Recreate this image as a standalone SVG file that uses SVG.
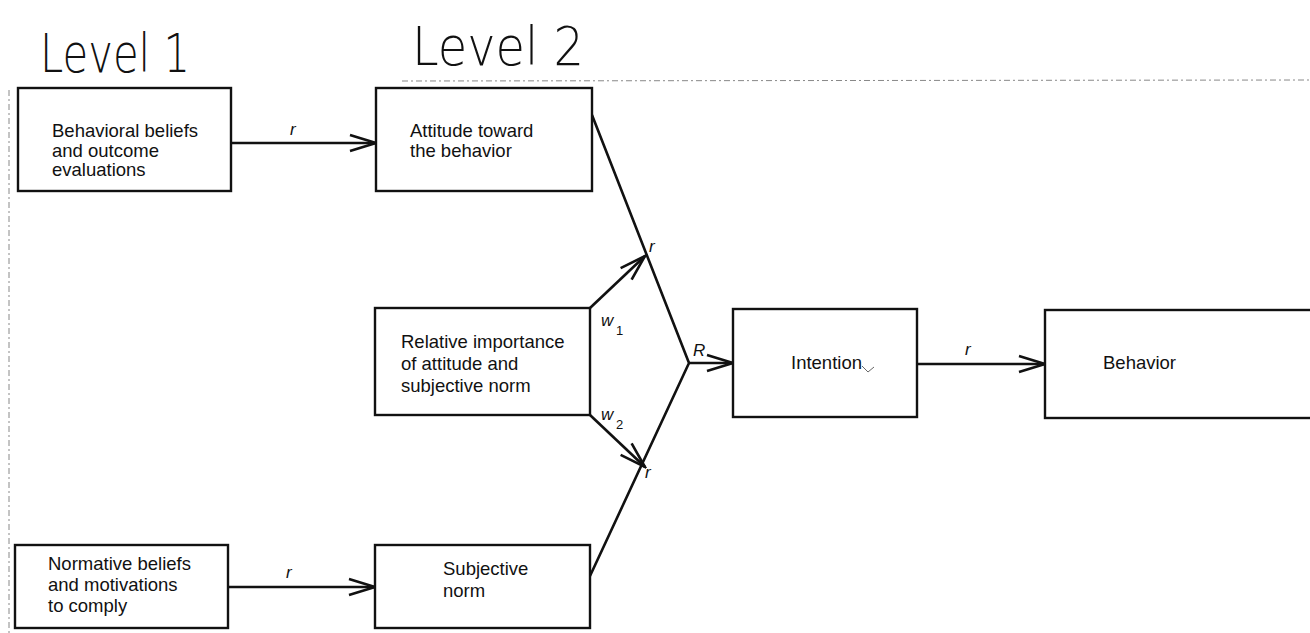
<svg xmlns="http://www.w3.org/2000/svg" width="1310" height="633" viewBox="0 0 1310 633">
  <style>
    .box { fill: #ffffff; stroke: #111111; stroke-width: 2.4; }
    .lbl { font-family: "Liberation Sans", Arial, sans-serif; font-size: 18.5px; fill: #111111; }
    .ital { font-family: "Liberation Sans", Arial, sans-serif; font-size: 17px; font-style: italic; fill: #111111; }
    .sub { font-family: "Liberation Sans", Arial, sans-serif; font-size: 13px; fill: #111111; }
    .hand { font-family: "DejaVu Sans", "Liberation Sans", sans-serif; font-size: 54px; fill: #111111; font-weight: 300; }
    .wire { fill: none; stroke: #111111; stroke-width: 2.6; }
    .edge { fill: none; stroke: #888888; stroke-width: 1; stroke-dasharray: 6 3 2 3; }
  </style>
  <defs>
    <marker id="open" viewBox="0 0 30 20" refX="28" refY="10" markerWidth="30" markerHeight="20" markerUnits="userSpaceOnUse" orient="auto">
      <path d="M2,2 L28,10 L2,18" fill="none" stroke="#111111" stroke-width="2.6"/>
    </marker>
  </defs>

  <rect width="1310" height="633" fill="#ffffff"/>

  <!-- page edges -->
  <line class="edge" x1="402" y1="81" x2="1310" y2="80"/>
  <line class="edge" x1="9" y1="90" x2="9" y2="633"/>

  <!-- handwritten level headings -->
  <g id="level1">
    <text class="hand" x="40" y="72" textLength="150" lengthAdjust="spacingAndGlyphs">Level 1</text>
  </g>
  <g id="level2">
    <text class="hand" x="412" y="65" textLength="172" lengthAdjust="spacingAndGlyphs">Level 2</text>
  </g>

  <!-- connectors -->
  <g id="connectors">
    <line class="wire" x1="231" y1="143" x2="376" y2="143" marker-end="url(#open)"/>
    <text class="ital" x="290" y="135">r</text>

    <line class="wire" x1="228" y1="587" x2="375" y2="587" marker-end="url(#open)"/>
    <text class="ital" x="286" y="578">r</text>

    <polyline class="wire" points="592,115 689,363 590,576"/>
    <text class="ital" x="649" y="252">r</text>
    <text class="ital" x="645" y="478">r</text>

    <line class="wire" x1="590" y1="308" x2="645" y2="256" marker-end="url(#open)"/>
    <text class="ital" x="601" y="326">w</text>
    <text class="sub" x="616" y="335">1</text>

    <line class="wire" x1="590" y1="415" x2="645" y2="467" marker-end="url(#open)"/>
    <text class="ital" x="601" y="420">w</text>
    <text class="sub" x="616" y="429">2</text>

    <line class="wire" x1="689" y1="363" x2="733" y2="363" marker-end="url(#open)"/>
    <text class="ital" x="693" y="356">R</text>

    <line class="wire" x1="917" y1="364" x2="1045" y2="364" marker-end="url(#open)"/>
    <text class="ital" x="965" y="355">r</text>
  </g>

  <!-- nodes -->
  <g id="behavioral-beliefs">
    <rect class="box" x="18" y="88" width="213" height="103"/>
    <text class="lbl" x="52" y="137">Behavioral beliefs</text>
    <text class="lbl" x="52" y="157">and outcome</text>
    <text class="lbl" x="52" y="176">evaluations</text>
  </g>

  <g id="attitude">
    <rect class="box" x="376" y="88" width="216" height="103"/>
    <text class="lbl" x="410" y="137">Attitude toward</text>
    <text class="lbl" x="410" y="157">the behavior</text>
  </g>

  <g id="relative-importance">
    <rect class="box" x="375" y="308" width="215" height="107"/>
    <text class="lbl" x="401" y="348">Relative importance</text>
    <text class="lbl" x="401" y="370">of attitude and</text>
    <text class="lbl" x="401" y="392">subjective norm</text>
  </g>

  <g id="intention">
    <rect class="box" x="733" y="309" width="184" height="108"/>
    <text class="lbl" x="791" y="369">Intention</text>
    <path d="M862,366 L868,372 L874,367" fill="none" stroke="#666666" stroke-width="1"/>
  </g>

  <g id="behavior">
    <rect class="box" x="1045" y="310" width="275" height="108"/>
    <text class="lbl" x="1103" y="369">Behavior</text>
  </g>

  <g id="normative-beliefs">
    <rect class="box" x="15" y="545" width="213" height="83"/>
    <text class="lbl" x="48" y="570">Normative beliefs</text>
    <text class="lbl" x="48" y="591">and motivations</text>
    <text class="lbl" x="48" y="612">to comply</text>
  </g>

  <g id="subjective-norm">
    <rect class="box" x="375" y="545" width="215" height="83"/>
    <text class="lbl" x="443" y="575">Subjective</text>
    <text class="lbl" x="443" y="597">norm</text>
  </g>
</svg>
